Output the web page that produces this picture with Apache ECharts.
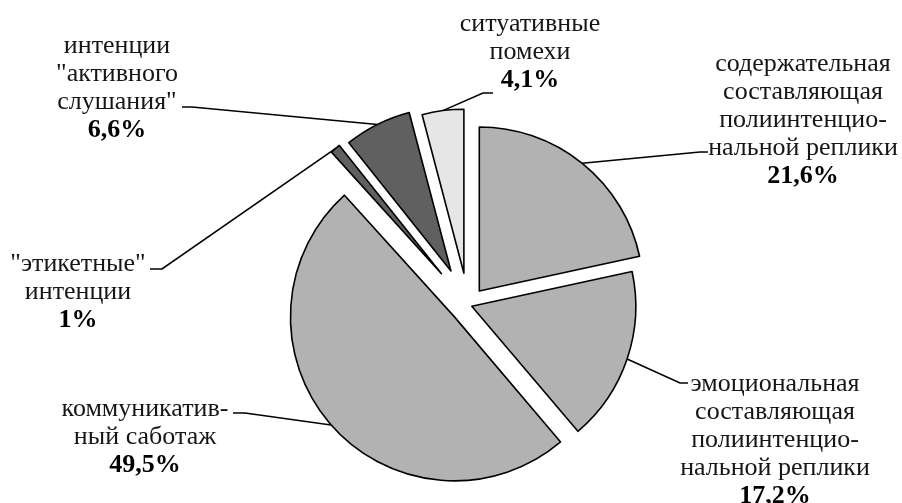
<!DOCTYPE html>
<html>
<head>
<meta charset="utf-8">
<script src="https://cdn.jsdelivr.net/npm/echarts@6/dist/echarts.min.js"></script>
<style>
html,body{margin:0;padding:0;background:#fff;}
#chart{width:902px;height:503px;}
</style>
</head>
<body>
<div id="chart"></div>
<script>
// ---- data ----
const categories = [
  'содержательная\nсоставляющая\nполиинтенцио-\nнальной реплики',
  'эмоциональная\nсоставляющая\nполиинтенцио-\nнальной реплики',
  'коммуникатив-\nный саботаж',
  '"этикетные"\nинтенции',
  'интенции\n"активного\nслушания"',
  'ситуативные\nпомехи'
];
const values = [21.6, 17.2, 49.5, 1, 6.6, 4.1];
const valueLabels = ['21,6%', '17,2%', '49,5%', '1%', '6,6%', '4,1%'];

// ---- styling / layout (not data) ----
const fills = ['#b2b2b2', '#b2b2b2', '#b2b2b2', '#606060', '#606060', '#e6e6e6'];
const pieCenter = [468, 305];
const pieRadius = 164;
const explode = [18, 4, 18, 41, 38, 32];          // slice explosion distance (px)
const labelPos = [[803, 120], [775, 440], [145, 437], [78, 292], [117, 88], [530, 52]];
const leaderElbow = [[700, 152], [680, 383], [245, 413], [162, 269], [192, 107], [483, 93]];
const leaderEnd = [[708, 152], [688, 383], [233, 413], [150, 269], [182, 107], [493, 93]];

const total = values.reduce(function (a, b) { return a + b; }, 0);
let acc = 0;
const midAngles = values.map(function (v) {
  const m = (acc + v / 2) / total * 2 * Math.PI;
  acc += v;
  return m;
});

const chart = echarts.init(document.getElementById('chart'), null, {renderer: 'canvas'});

const series = values.map(function (_, k) {
  const c = [
    pieCenter[0] + explode[k] * Math.sin(midAngles[k]),
    pieCenter[1] - explode[k] * Math.cos(midAngles[k])
  ];
  return {
    type: 'pie',
    center: c,
    radius: pieRadius,
    startAngle: 90,
    clockwise: true,
    avoidLabelOverlap: false,
    silent: true,
    animation: false,
    emphasis: {disabled: true},
    labelLayout: function (params) {
      if (params.dataIndex !== k) return {};
      const start = params.labelLinePoints ? params.labelLinePoints[0] : [c[0], c[1]];
      return {
        x: labelPos[k][0], y: labelPos[k][1], align: 'center', verticalAlign: 'middle',
        labelLinePoints: [start, leaderElbow[k], leaderEnd[k]]
      };
    },
    data: values.map(function (v, i) {
      const vis = i === k;
      return {
        value: v,
        name: categories[i],
        itemStyle: vis ? {color: fills[i], borderColor: '#000', borderWidth: 1.6}
                       : {color: 'rgba(0,0,0,0)', borderWidth: 0},
        label: vis ? {
          show: true,
          position: 'outside',
          alignTo: 'none',
          overflow: 'none',
          formatter: '{n|' + categories[i] + '}\n{b|' + valueLabels[i] + '}',
          rich: {
            n: {fontFamily: 'Liberation Serif', fontSize: 26, lineHeight: 28, color: '#161616'},
            b: {fontFamily: 'Liberation Serif', fontSize: 26, lineHeight: 28, fontWeight: 'bold', color: '#000'}
          }
        } : {show: false},
        labelLine: vis ? {show: true, length: 20, length2: 10, smooth: false, lineStyle: {color: '#000', width: 1.6}} : {show: false}
      };
    })
  };
});

chart.setOption({
  backgroundColor: '#fff',
  animation: false,
  series: series
});
</script>
</body>
</html>
